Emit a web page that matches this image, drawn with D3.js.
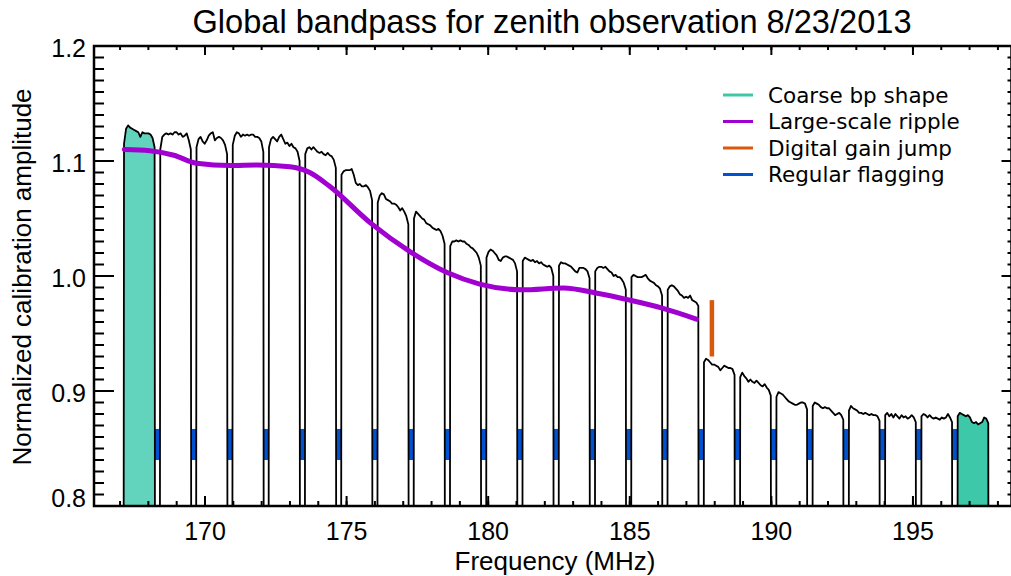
<!DOCTYPE html>
<html>
<head>
<meta charset="utf-8">
<style>
body { margin: 0; background: #fff; }
</style>
</head>
<body>
<script src="https://d3js.org/d3.v7.min.js"></script>
<script>
// window dimensions
var svgWidth = 1011;
var svgHeight = 576;
// plot frame (pixels)
var plotLeft = 94, plotRight = 1011.5, plotTop = 46, plotBottom = 506;

// ---- data ----
// lower edge of each 1.28 MHz coarse channel (MHz)
var chanEdges = [167.04, 168.32, 169.60, 170.88, 172.16, 173.44, 174.72, 176.00,
  177.28, 178.56, 179.84, 181.12, 182.40, 183.68, 184.96, 186.24,
  187.52, 188.80, 190.08, 191.36, 192.64, 193.92, 195.20, 196.48];
// offset (MHz) of the unflagged points inside a coarse channel
var fineOffset = [0.10, 0.172, 0.244, 0.316, 0.388, 0.46, 0.532, 0.604,
  0.676, 0.748, 0.82, 0.892, 0.964, 1.036, 1.108, 1.18];
// edge fine channels are flagged (amplitude 0)
var flagOffset = [0.06, 1.22];
// calibration amplitude for each coarse channel
var bandpass = [
  [1.115, 1.128, 1.131, 1.129, 1.128, 1.127, 1.126, 1.125, 1.121, 1.125, 1.124, 1.124, 1.124, 1.123, 1.120, 1.112],
  [1.110, 1.121, 1.123, 1.124, 1.123, 1.124, 1.123, 1.125, 1.125, 1.123, 1.124, 1.121, 1.122, 1.124, 1.118, 1.110],
  [1.112, 1.119, 1.121, 1.117, 1.115, 1.118, 1.122, 1.124, 1.125, 1.118, 1.120, 1.121, 1.120, 1.118, 1.114, 1.106],
  [1.114, 1.122, 1.125, 1.124, 1.121, 1.123, 1.122, 1.123, 1.122, 1.123, 1.123, 1.121, 1.121, 1.120, 1.117, 1.108],
  [1.112, 1.119, 1.121, 1.119, 1.117, 1.121, 1.123, 1.119, 1.115, 1.116, 1.113, 1.115, 1.112, 1.111, 1.108, 1.100],
  [1.106, 1.111, 1.112, 1.110, 1.112, 1.110, 1.108, 1.107, 1.108, 1.106, 1.105, 1.107, 1.105, 1.104, 1.101, 1.094],
  [1.088, 1.091, 1.092, 1.092, 1.092, 1.093, 1.088, 1.081, 1.079, 1.080, 1.078, 1.078, 1.079, 1.077, 1.074, 1.066],
  [1.064, 1.070, 1.072, 1.071, 1.067, 1.066, 1.065, 1.063, 1.063, 1.062, 1.060, 1.057, 1.059, 1.056, 1.052, 1.045],
  [1.050, 1.056, 1.054, 1.052, 1.050, 1.049, 1.046, 1.045, 1.044, 1.042, 1.041, 1.040, 1.041, 1.039, 1.035, 1.028],
  [1.026, 1.030, 1.030, 1.031, 1.030, 1.031, 1.030, 1.030, 1.028, 1.027, 1.025, 1.024, 1.022, 1.020, 1.016, 1.009],
  [1.016, 1.021, 1.023, 1.022, 1.020, 1.018, 1.014, 1.013, 1.016, 1.017, 1.017, 1.016, 1.015, 1.014, 1.011, 1.004],
  [1.013, 1.016, 1.015, 1.014, 1.013, 1.014, 1.012, 1.013, 1.011, 1.012, 1.010, 1.009, 1.008, 1.009, 1.007, 1.000],
  [1.009, 1.012, 1.011, 1.011, 1.010, 1.009, 1.008, 1.006, 1.004, 1.003, 1.007, 1.007, 1.007, 1.006, 1.004, 0.998],
  [1.004, 1.007, 1.008, 1.008, 1.007, 1.008, 1.006, 1.004, 1.003, 1.000, 1.001, 0.999, 0.999, 0.997, 0.994, 0.988],
  [0.999, 1.001, 1.000, 0.999, 0.999, 0.999, 1.000, 1.001, 0.998, 0.996, 0.995, 0.994, 0.992, 0.991, 0.989, 0.983],
  [0.988, 0.991, 0.992, 0.991, 0.989, 0.987, 0.984, 0.983, 0.981, 0.982, 0.981, 0.983, 0.979, 0.978, 0.977, 0.974],
  [0.925, 0.928, 0.927, 0.925, 0.923, 0.923, 0.922, 0.921, 0.918, 0.920, 0.922, 0.921, 0.920, 0.920, 0.919, 0.914],
  [0.912, 0.916, 0.913, 0.911, 0.908, 0.910, 0.908, 0.907, 0.909, 0.907, 0.905, 0.904, 0.906, 0.903, 0.901, 0.896],
  [0.895, 0.899, 0.898, 0.897, 0.895, 0.893, 0.891, 0.890, 0.889, 0.888, 0.888, 0.889, 0.890, 0.890, 0.889, 0.884],
  [0.887, 0.890, 0.889, 0.888, 0.886, 0.885, 0.886, 0.885, 0.885, 0.883, 0.881, 0.879, 0.880, 0.881, 0.879, 0.875],
  [0.883, 0.887, 0.885, 0.884, 0.883, 0.881, 0.881, 0.880, 0.881, 0.880, 0.879, 0.880, 0.879, 0.879, 0.878, 0.874],
  [0.879, 0.881, 0.878, 0.880, 0.877, 0.880, 0.878, 0.876, 0.879, 0.877, 0.878, 0.876, 0.877, 0.879, 0.877, 0.873],
  [0.878, 0.880, 0.879, 0.877, 0.879, 0.877, 0.876, 0.877, 0.876, 0.875, 0.877, 0.876, 0.877, 0.880, 0.877, 0.873],
  [0.878, 0.881, 0.880, 0.879, 0.878, 0.879, 0.877, 0.873, 0.872, 0.873, 0.871, 0.872, 0.873, 0.877, 0.876, 0.872]
];
// coarse channels shaded to show the coarse bandpass shape
var shapeChans = [0, 23];
var shapeColors = ['#62d4be', '#3cc8a9'];
// large-scale ripple fit
var rippleFreq = [167.15, 168.05, 168.9, 169.7, 170.9, 171.85, 173.0, 173.7, 174.4, 175.85,
  177.25, 178.55, 179.7, 181.2, 182.65, 183.85, 185.0, 186.15, 187.35];
var rippleAmp = [1.110, 1.109, 1.105, 1.098, 1.096, 1.0965, 1.095, 1.090, 1.078, 1.046,
  1.021, 1.003, 0.993, 0.988, 0.9895, 0.985, 0.979, 0.972, 0.9625];
// digital gain jump marker
var jumpFreq = 187.9;
var jumpAmp = [0.930, 0.979];
// regular flagging band
var flagAmp = [0.840, 0.867];
// axes
var xMajor = [170, 175, 180, 185, 190, 195];
var xMinor = d3.range(167, 199);
var yMajor = [0.8, 0.9, 1.0, 1.1, 1.2];
var yMinor = d3.range(80, 121).map(function(d){ return d / 100 });
// legend
var legendLabels = ['Coarse bp shape', 'Large-scale ripple', 'Digital gain jump', 'Regular flagging'];
var legendColors = ['#3ec8a8', '#a000d0', '#d9580c', '#0052d0'];

var armFont = 'Liberation Sans, Arial, Helvetica, sans-serif';

var svg = d3.select('body').append('svg')
	.attr('width', svgWidth)
	.attr('height', svgHeight)
	.style('display', 'block');

var x = d3.scaleLinear().domain([166.08, 198.48]).range([plotLeft, plotRight]);
var y = d3.scaleLinear().domain([0.8, 1.2]).range([plotBottom, plotTop]);

svg.append('clipPath').attr('id', 'plotclip')
	.append('rect')
	.attr('x', plotLeft).attr('y', plotTop)
	.attr('width', plotRight - plotLeft).attr('height', plotBottom - plotTop);

var plot = svg.append('g').attr('clip-path', 'url(#plotclip)');

// one point list per coarse channel, flagged edges at zero
function chanPoints(c) {
	var e = chanEdges[c];
	var pts = [{f: e + flagOffset[0], v: 0}];
	bandpass[c].forEach(function(v, i){ pts.push({f: e + fineOffset[i], v: v}) });
	pts.push({f: e + flagOffset[1], v: 0});
	return pts;
}
var trace = [];
chanEdges.forEach(function(e, c){ trace = trace.concat(chanPoints(c)) });

// coarse bp shape fill
var area = d3.area()
	.x(function(d){ return x(d.f) })
	.y0(y(0.8))
	.y1(function(d){ return y(d.v) });
plot.selectAll('path.shape')
	.data(shapeChans)
	.enter().append('path')
	.attr('class', 'shape')
	.attr('d', function(c){ return area(chanPoints(c)) })
	.attr('fill', function(c, i){ return shapeColors[i] });

// regular flagging between coarse channels
plot.selectAll('rect.flag')
	.data(chanEdges.slice(1))
	.enter().append('rect')
	.attr('class', 'flag')
	.attr('x', function(d){ return x(d - 0.09) })
	.attr('width', function(d){ return x(d + 0.09) - x(d - 0.09) })
	.attr('y', y(flagAmp[1]))
	.attr('height', y(flagAmp[0]) - y(flagAmp[1]))
	.attr('fill', '#0052d0');

// bandpass trace
var line = d3.line()
	.x(function(d){ return x(d.f) })
	.y(function(d){ return y(d.v) });
plot.append('path')
	.datum(trace)
	.attr('d', line)
	.attr('fill', 'none')
	.attr('stroke', '#000')
	.attr('stroke-width', 1.8)
	.attr('stroke-linejoin', 'round');

// large-scale ripple
var ripple = rippleFreq.map(function(f, i){ return {f: f, v: rippleAmp[i]} });
plot.append('path')
	.datum(ripple)
	.attr('d', d3.line().curve(d3.curveMonotoneX)
		.x(function(d){ return x(d.f) })
		.y(function(d){ return y(d.v) }))
	.attr('fill', 'none')
	.attr('stroke', '#a000d0')
	.attr('stroke-width', 5)
	.attr('stroke-linecap', 'round');

// digital gain jump
plot.append('line')
	.attr('x1', x(jumpFreq)).attr('x2', x(jumpFreq))
	.attr('y1', y(jumpAmp[0])).attr('y2', y(jumpAmp[1]))
	.attr('stroke', '#d9580c')
	.attr('stroke-width', 4.5);

// ---- axes box and ticks ----
var axes = svg.append('g').attr('stroke', '#000');
axes.append('rect')
	.attr('x', plotLeft).attr('y', plotTop)
	.attr('width', plotRight - plotLeft).attr('height', plotBottom - plotTop)
	.attr('fill', 'none')
	.attr('stroke-width', 2.5);

function xTicks(vals, len, w) {
	vals.forEach(function(v){
		axes.append('line').attr('x1', x(v)).attr('x2', x(v))
			.attr('y1', plotBottom).attr('y2', plotBottom - len).attr('stroke-width', w);
		axes.append('line').attr('x1', x(v)).attr('x2', x(v))
			.attr('y1', plotTop).attr('y2', plotTop + len - 1).attr('stroke-width', w);
	});
}
xTicks(xMinor, 5, 2);
xTicks(xMajor, 10, 2);

function yTicks(vals, lenL, lenR) {
	vals.forEach(function(v){
		axes.append('line').attr('x1', plotLeft).attr('x2', plotLeft + lenL)
			.attr('y1', y(v)).attr('y2', y(v)).attr('stroke-width', 2);
		axes.append('line').attr('x1', plotRight).attr('x2', plotRight - lenR)
			.attr('y1', y(v)).attr('y2', y(v)).attr('stroke-width', 2);
	});
}
yTicks(yMinor, 10, 4);
yTicks(yMajor, 20, 10);

// tick labels
svg.selectAll('text.xlab')
	.data(xMajor)
	.enter().append('text')
	.attr('class', 'xlab')
	.attr('x', function(d){ return x(d) })
	.attr('y', 540)
	.attr('text-anchor', 'middle')
	.style('font-family', armFont)
	.style('font-size', '25px')
	.text(function(d){ return d });

svg.selectAll('text.ylab')
	.data(yMajor)
	.enter().append('text')
	.attr('class', 'ylab')
	.attr('x', 86)
	.attr('y', function(d){ return d == 0.8 ? y(d) - 8 : y(d) + 2 })
	.attr('dy', '0.36em')
	.attr('text-anchor', 'end')
	.style('font-family', armFont)
	.style('font-size', '25px')
	.text(function(d){ return d.toFixed(1) });

// titles
svg.append('text')
	.attr('x', 552).attr('y', 33)
	.attr('text-anchor', 'middle')
	.style('font-family', armFont)
	.style('font-size', '32.6px')
	.text('Global bandpass for zenith observation 8/23/2013');

svg.append('text')
	.attr('x', 555).attr('y', 570)
	.attr('text-anchor', 'middle')
	.style('font-family', armFont)
	.style('font-size', '26px')
	.text('Frequency (MHz)');

svg.append('text')
	.attr('transform', 'translate(31,277) rotate(-90)')
	.attr('text-anchor', 'middle')
	.style('font-family', armFont)
	.style('font-size', '26px')
	.text('Normalized calibration amplitude');

// legend
var legend = svg.append('g').attr('transform', 'translate(723,95)');
legend.selectAll('line')
	.data(legendLabels)
	.enter().append('line')
	.attr('x1', 0).attr('x2', 30)
	.attr('y1', function(d, i){ return i * 26.5 })
	.attr('y2', function(d, i){ return i * 26.5 })
	.attr('stroke', function(d, i){ return legendColors[i] })
	.attr('stroke-width', 3);
legend.selectAll('text')
	.data(legendLabels)
	.enter().append('text')
	.attr('x', 45)
	.attr('y', function(d, i){ return i * 26.5 })
	.attr('dy', '0.36em')
	.style('font-family', 'DejaVu Sans, sans-serif')
	.style('font-size', '21.5px')
	.text(function(d){ return d });
</script>
</body>
</html>
